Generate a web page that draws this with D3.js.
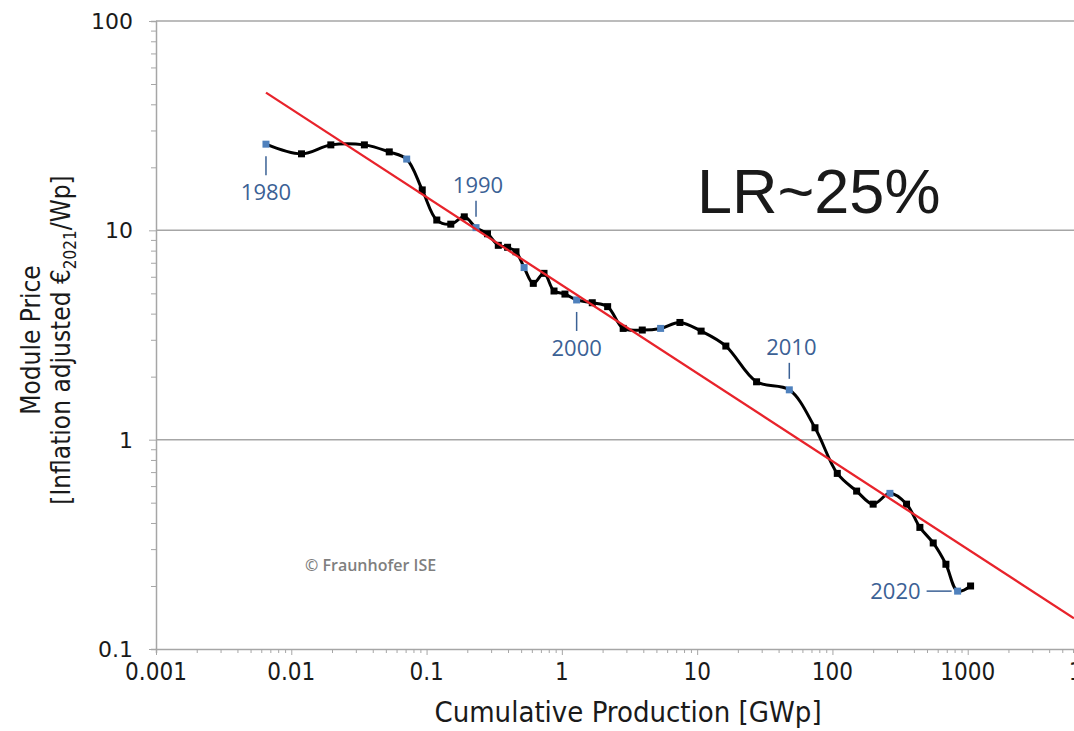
<!DOCTYPE html>
<html>
<head>
<meta charset="utf-8">
<script src="https://cdn.jsdelivr.net/npm/d3@7"></script>
<style>
  body { margin: 0; background: #fff; }
  svg { display: block; }
</style>
</head>
<body>
<div id="chart"></div>
<script>
// Module price experience curve
const years = [1980, 1981, 1982, 1983, 1984, 1985, 1986, 1987, 1988, 1989,
               1990, 1991, 1992, 1993, 1994, 1995, 1996, 1997, 1998, 1999,
               2000, 2001, 2002, 2003, 2004, 2005, 2006, 2007, 2008, 2009,
               2010, 2011, 2012, 2013, 2014, 2015, 2016, 2017, 2018, 2019,
               2020, 2021];
const cumProduction = [0.0065, 0.0119, 0.0196, 0.0347, 0.053, 0.0713, 0.0929, 0.119, 0.151, 0.190,
                       0.232, 0.282, 0.339, 0.397, 0.458, 0.526, 0.615, 0.738, 0.875, 1.054,
                       1.286, 1.678, 2.18, 2.84, 3.93, 5.37, 7.46, 10.7, 16.3, 27.5,
                       48.0, 74.3, 108.6, 151, 200, 266, 353, 443, 556, 690,
                       842, 1050];
const modulePrice = [25.8, 23.2, 25.6, 25.6, 23.7, 21.9, 15.6, 11.2, 10.7, 11.6,
                     10.3, 9.63, 8.48, 8.30, 7.90, 6.64, 5.58, 6.23, 5.13, 4.96,
                     4.65, 4.51, 4.32, 3.40, 3.34, 3.40, 3.63, 3.30, 2.80, 1.89,
                     1.73, 1.14, 0.690, 0.568, 0.492, 0.554, 0.492, 0.381, 0.321, 0.254,
                     0.189, 0.200];
const highlightYears = [1980, 1985, 1990, 1995, 2000, 2005, 2010, 2015, 2020];

// labelled years and where the label sits
const labelYears = [1980, 1990, 2000, 2010, 2020];
const labelSide = ["below", "above", "below", "above", "left"];

// learning-rate fit line end points
const trendX = [0.0065, 6100];
const trendY = [45.5, 0.14];

const xTicks = [0.001, 0.01, 0.1, 1, 10, 100, 1000, 10000];
const xTickLabels = ["0.001", "0.01", "0.1", "1", "10", "100", "1000", "10000"];
const yTicks = [0.1, 1, 10, 100];
const yTickLabels = ["0.1", "1", "10", "100"];

const width = 1074, height = 731;
const svg = d3.select("#chart").append("svg")
    .attr("width", width)
    .attr("height", height);
svg.append("rect").attr("width", width).attr("height", height).attr("fill", "#fff");

const x = d3.scaleLog().domain([0.001, 10000]).range([156, 1103]);
const y = d3.scaleLog().domain([0.1, 100]).range([649, 21]);

const gridColor = "#a6a6a6";
const condensed = "'DejaVu Sans Condensed', 'DejaVu Sans', sans-serif";

// horizontal grid lines at the decades
svg.append("g").selectAll("line")
    .data([1, 10, 100])
    .enter().append("line")
    .attr("x1", x(0.001)).attr("x2", width)
    .attr("y1", d => y(d)).attr("y2", d => y(d))
    .attr("stroke", gridColor).attr("stroke-width", 1.5);

// x axis
const xAxis = svg.append("g")
    .attr("transform", `translate(0,${y(0.1)})`)
    .call(d3.axisBottom(x).tickValues(x.ticks()).tickSize(4).tickFormat(""));
xAxis.select(".domain").attr("stroke", gridColor).attr("stroke-width", 1.5);
xAxis.selectAll(".tick line").attr("stroke", gridColor)
    .attr("y2", d => xTicks.includes(d) ? 6 : 4);

svg.append("g").selectAll("text")
    .data(xTicks)
    .enter().append("text")
    .attr("x", d => x(d))
    .attr("y", 680)
    .attr("text-anchor", "middle")
    .attr("font-family", condensed)
    .attr("font-size", 24)
    .attr("fill", "#1a1a1a")
    .text((d, i) => xTickLabels[i]);

// y axis
const yAxis = svg.append("g")
    .attr("transform", `translate(${x(0.001)},0)`)
    .call(d3.axisLeft(y).tickValues(y.ticks()).tickSize(5).tickFormat(""));
yAxis.select(".domain").attr("stroke", gridColor).attr("stroke-width", 1.5);
yAxis.selectAll(".tick line").attr("stroke", gridColor)
    .attr("x2", d => yTicks.includes(d) ? -7 : -5);

svg.append("g").selectAll("text")
    .data(yTicks)
    .enter().append("text")
    .attr("x", 133)
    .attr("y", d => y(d))
    .attr("dy", "0.36em")
    .attr("text-anchor", "end")
    .attr("font-family", "'DejaVu Sans', sans-serif")
    .attr("font-size", 22)
    .attr("fill", "#1a1a1a")
    .text((d, i) => yTickLabels[i]);

// axis titles
svg.append("text")
    .attr("x", 628).attr("y", 722)
    .attr("text-anchor", "middle")
    .attr("font-family", condensed)
    .attr("font-size", 29)
    .attr("fill", "#1a1a1a")
    .text("Cumulative Production [GWp]");

const yTitle = svg.append("text")
    .attr("transform", "translate(0,340) rotate(-90)")
    .attr("text-anchor", "middle")
    .attr("font-family", condensed)
    .attr("font-size", 26)
    .attr("fill", "#1a1a1a");
yTitle.append("tspan").attr("x", 0).attr("y", 40).text("Module Price");
const line2 = yTitle.append("tspan").attr("x", 0).attr("y", 70);
line2.append("tspan").text("[Inflation adjusted €");
line2.append("tspan").attr("font-size", 17).attr("dy", 6).text("2021");
line2.append("tspan").attr("dy", -6).text("/Wp]");

// data curve
const points = years.map((yr, i) => ({ year: yr, x: cumProduction[i], y: modulePrice[i] }));

svg.append("path")
    .datum(points)
    .attr("fill", "none")
    .attr("stroke", "#000")
    .attr("stroke-width", 3)
    .attr("d", d3.line()
        .x(d => x(d.x))
        .y(d => y(d.y))
        .curve(d3.curveCatmullRom.alpha(0.5)));

const ms = 7;
svg.append("g").selectAll("rect")
    .data(points)
    .enter().append("rect")
    .attr("x", d => x(d.x) - ms / 2)
    .attr("y", d => y(d.y) - ms / 2)
    .attr("width", ms).attr("height", ms)
    .attr("fill", d => highlightYears.includes(d.year) ? "#4f81bd" : "#000");

// year annotations
const blue = "#3b6195";
labelYears.forEach((yr, i) => {
    const p = points.find(d => d.year === yr);
    const px = x(p.x), py = y(p.y);
    const g = svg.append("g");
    let lx1, ly1, lx2, ly2, tx, ty, anchor = "middle";
    if (labelSide[i] === "below") {
        lx1 = lx2 = px; ly1 = py + 12; ly2 = py + 31; tx = px; ty = py + 56;
    } else if (labelSide[i] === "above") {
        lx1 = lx2 = px; ly1 = py - 27; ly2 = py - 11; tx = px + 2; ty = py - 35;
    } else {
        ly1 = ly2 = py; lx1 = px - 31; lx2 = px - 6; tx = px - 37; ty = py + 8; anchor = "end";
    }
    g.append("line")
        .attr("x1", lx1).attr("x2", lx2).attr("y1", ly1).attr("y2", ly2)
        .attr("stroke", blue).attr("stroke-width", 1.5);
    g.append("text")
        .attr("x", tx).attr("y", ty)
        .attr("text-anchor", anchor)
        .attr("font-family", "'Open Sans', sans-serif")
        .attr("font-size", 22)
        .attr("fill", blue)
        .text(yr);
});

// learning-rate line
svg.append("line")
    .attr("x1", x(trendX[0])).attr("y1", y(trendY[0]))
    .attr("x2", x(trendX[1])).attr("y2", y(trendY[1]))
    .attr("stroke", "#e8232b")
    .attr("stroke-width", 2.3);

svg.append("text")
    .attr("x", 697).attr("y", 213)
    .attr("font-family", "'Liberation Sans', Arial, sans-serif")
    .attr("font-size", 63)
    .attr("fill", "#1a1a1a")
    .text("LR~25%");

svg.append("text")
    .attr("x", 305).attr("y", 571)
    .attr("font-family", "'Open Sans', sans-serif")
    .attr("font-size", 16)
    .attr("font-weight", 600)
    .attr("fill", "#7f7f7f")
    .text("© Fraunhofer ISE");
</script>
</body>
</html>
